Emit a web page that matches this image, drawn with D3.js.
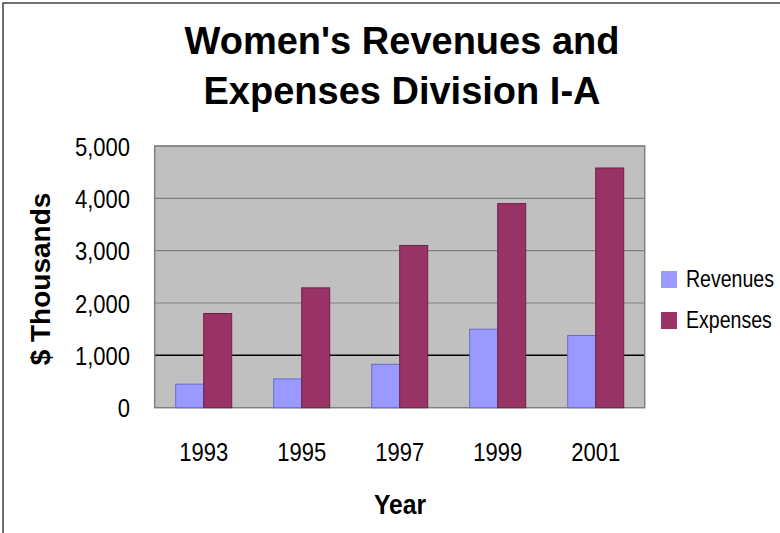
<!DOCTYPE html>
<html>
<head>
<meta charset="utf-8">
<script src="https://cdn.jsdelivr.net/npm/d3@7"></script>
<style>
  html, body { margin: 0; padding: 0; background: #fff; }
  svg { display: block; }
  text { font-family: "Liberation Sans", Arial, sans-serif; fill: #000; }
</style>
</head>
<body>
<svg id="chart" width="780" height="533"></svg>
<script>
// ---- data ----
const years = ["1993", "1995", "1997", "1999", "2001"];
const seriesNames = ["Revenues", "Expenses"];
const revenues = [450, 550, 830, 1500, 1380];
const expenses = [1800, 2290, 3100, 3900, 4580];
const yTicks = [0, 1000, 2000, 3000, 4000, 5000];
const titleLines = ["Women's Revenues and", "Expenses Division I-A"];
const yTitle = "$ Thousands";
const xTitle = "Year";

const colors = { Revenues: "#9999FF", Expenses: "#993366" };
const strokes = { Revenues: "#6B6BC8", Expenses: "#6E2449" };

const svg = d3.select("#chart");

// outer frame
svg.append("rect")
  .attr("x", 3).attr("y", 3).attr("width", 900).attr("height", 700)
  .attr("fill", "none").attr("stroke", "#404040").attr("stroke-width", 1.5);

const plot = { left: 154.7, right: 644.7, top: 146, bottom: 407.7 };

const x = d3.scaleBand().domain(years)
  .range([plot.left, plot.right])
  .paddingInner(42 / 98).paddingOuter(21 / 98);
const xs = d3.scaleBand().domain(seriesNames).range([0, x.bandwidth()]).padding(0);
const y = d3.scaleLinear().domain([0, 5000]).range([plot.bottom, plot.top]);

function squeeze(sel, f) {
  sel.each(function () {
    const w = this.getComputedTextLength();
    d3.select(this).attr("textLength", w * f).attr("lengthAdjust", "spacingAndGlyphs");
  });
}

// plot background
svg.append("rect")
  .attr("x", plot.left).attr("y", plot.top)
  .attr("width", plot.right - plot.left).attr("height", plot.bottom - plot.top)
  .attr("fill", "#C0C0C0");

// gridlines
svg.append("g").selectAll("line")
  .data(yTicks.filter(d => d > 0))
  .join("line")
  .attr("x1", plot.left).attr("x2", plot.right)
  .attr("y1", d => y(d)).attr("y2", d => y(d))
  .attr("stroke", d => d === 1000 ? "#000" : "#808080")
  .attr("stroke-width", d => d === 1000 ? 1.5 : 1.2);

// plot border
svg.append("rect")
  .attr("x", plot.left).attr("y", plot.top)
  .attr("width", plot.right - plot.left).attr("height", plot.bottom - plot.top)
  .attr("fill", "none").attr("stroke", "#808080").attr("stroke-width", 1.5);

// bars
const rows = years.map((yr, i) => ({ year: yr, Revenues: revenues[i], Expenses: expenses[i] }));
const groups = svg.append("g").selectAll("g")
  .data(rows).join("g")
  .attr("transform", d => `translate(${x(d.year)},0)`);
groups.selectAll("rect")
  .data(d => seriesNames.map(k => ({ key: k, value: d[k] })))
  .join("rect")
  .attr("x", d => xs(d.key))
  .attr("width", xs.bandwidth())
  .attr("y", d => y(d.value))
  .attr("height", d => y(0) - y(d.value))
  .attr("fill", d => colors[d.key])
  .attr("stroke", d => strokes[d.key])
  .attr("stroke-width", 1);

// y tick labels
const yLab = svg.append("g").selectAll("text")
  .data(yTicks).join("text")
  .attr("x", 130).attr("y", d => y(d) + 9.5)
  .attr("text-anchor", "end")
  .style("font-size", "25px")
  .text(d => d3.format(",")(d));
squeeze(yLab, 0.88);

// x tick labels
const xLab = svg.append("g").selectAll("text")
  .data(years).join("text")
  .attr("x", d => x(d) + x.bandwidth() / 2)
  .attr("y", 461)
  .attr("text-anchor", "middle")
  .style("font-size", "25px")
  .text(d => d);
squeeze(xLab, 0.88);

// title
svg.append("g").selectAll("text")
  .data(titleLines).join("text")
  .attr("x", 402).attr("y", (d, i) => 54 + i * 50)
  .attr("text-anchor", "middle")
  .style("font-size", "38px").style("font-weight", "bold")
  .text(d => d);

// axis titles
const xt = svg.append("text")
  .attr("x", 400).attr("y", 514)
  .attr("text-anchor", "middle")
  .style("font-size", "28px").style("font-weight", "bold")
  .text(xTitle);
squeeze(xt, 0.88);

svg.append("text")
  .attr("transform", "translate(50,279) rotate(-90)")
  .attr("text-anchor", "middle")
  .style("font-size", "28px").style("font-weight", "bold")
  .text(yTitle);

// legend
const leg = svg.append("g").selectAll("g")
  .data(seriesNames).join("g")
  .attr("transform", (d, i) => `translate(661,${271 + i * 41})`);
leg.append("rect")
  .attr("width", 16).attr("height", 17)
  .attr("fill", d => colors[d]);
leg.append("text")
  .attr("transform", "translate(25,16) scale(0.85,1)")
  .style("font-size", "23px")
  .text(d => d);
</script>
</body>
</html>
